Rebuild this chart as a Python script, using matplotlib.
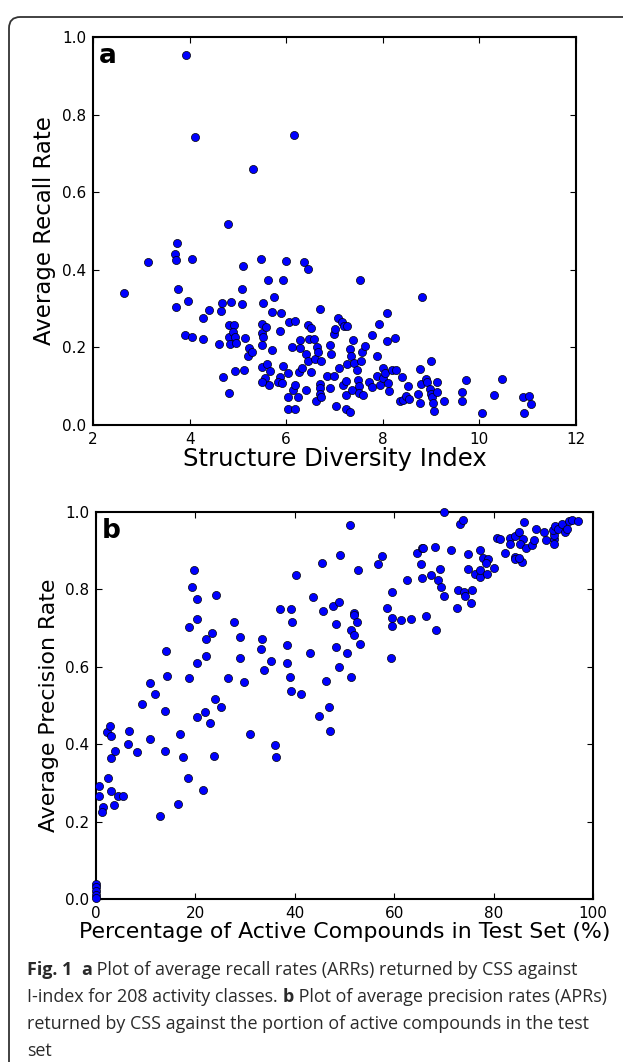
import matplotlib
matplotlib.use("Agg")
import matplotlib.pyplot as plt
from matplotlib.patches import FancyBboxPatch

# ---------------- Data ---------------- #

# panel a: structure diversity index vs average recall rate
sdi = [3.92, 4.12, 6.16, 5.31, 4.80,
       2.64, 3.14, 3.70, 3.74, 3.72, 3.76, 3.72, 4.05, 3.97, 3.91, 4.04, 4.28, 4.41, 4.28,
       4.60, 4.64, 4.68, 4.70, 4.82, 4.86, 4.82, 4.91, 4.82, 4.83, 4.89, 4.93, 4.97, 4.94,
       5.09, 5.09, 5.10, 5.14, 5.13, 5.22, 5.20, 5.30, 5.47, 5.49, 5.50, 5.53, 5.49, 5.59,
       5.52, 5.63, 5.74, 5.71, 5.71, 5.50, 5.60, 5.67, 5.57, 5.64, 5.49, 5.93, 5.99, 5.90,
       5.88, 5.93, 5.88, 5.82, 5.92, 6.04, 6.03, 6.03, 6.06, 6.11, 6.19, 6.15, 6.19, 6.24,
       6.19, 6.29, 6.28, 6.27, 6.33, 6.36, 6.45, 6.40, 6.41, 6.47, 6.45, 6.51, 6.45, 6.57,
       6.52, 6.60, 6.64, 6.69, 6.66, 6.73, 6.69, 6.71, 6.71, 6.61, 6.72, 6.84, 6.91, 6.92,
       6.91, 6.99, 6.99, 7.00, 7.07, 7.03, 7.09, 7.16, 7.19, 7.25, 7.17, 7.23, 7.23, 7.23,
       7.26, 7.32, 7.33, 7.34, 7.38, 7.40, 7.36, 7.47, 7.48, 7.51, 7.51, 7.58, 7.52, 7.54,
       7.56, 7.63, 7.72, 7.77, 7.77, 7.87, 7.88, 7.92, 7.95, 8.01, 8.01, 8.04, 8.08, 8.09,
       8.11, 8.12, 8.19, 8.28, 8.26, 8.40, 8.35, 8.41, 8.47, 8.52, 8.54, 8.73, 8.78, 8.77,
       8.82, 8.80, 8.89, 8.92, 8.99, 8.97, 9.00, 9.02, 9.04, 9.06, 9.12, 9.13, 9.27, 9.65,
       9.65, 9.72, 10.05, 10.31, 10.46, 10.91, 11.02, 11.07, 10.93]
arr = [0.954, 0.742, 0.747, 0.659, 0.518,
       0.340, 0.419, 0.440, 0.470, 0.425, 0.350, 0.305, 0.427, 0.320, 0.233, 0.226, 0.277,
       0.296, 0.222, 0.209, 0.293, 0.315, 0.125, 0.082, 0.318, 0.259, 0.259, 0.227, 0.208,
       0.240, 0.228, 0.211, 0.140, 0.313, 0.350, 0.410, 0.225, 0.142, 0.199, 0.178, 0.187,
       0.427, 0.260, 0.237, 0.226, 0.207, 0.253, 0.314, 0.373, 0.331, 0.291, 0.194, 0.150,
       0.158, 0.140, 0.122, 0.103, 0.110, 0.375, 0.423, 0.289, 0.242, 0.153, 0.123, 0.112,
       0.109, 0.134, 0.072, 0.041, 0.265, 0.201, 0.267, 0.089, 0.103, 0.072, 0.040, 0.220,
       0.199, 0.137, 0.147, 0.421, 0.403, 0.182, 0.089, 0.221, 0.257, 0.251, 0.165, 0.222,
       0.136, 0.171, 0.201, 0.299, 0.188, 0.164, 0.106, 0.096, 0.080, 0.061, 0.072, 0.126,
       0.205, 0.182, 0.095, 0.126, 0.234, 0.247, 0.276, 0.048, 0.146, 0.265, 0.255, 0.255,
       0.103, 0.114, 0.040, 0.077, 0.158, 0.033, 0.195, 0.177, 0.220, 0.160, 0.089, 0.143,
       0.116, 0.101, 0.082, 0.078, 0.375, 0.166, 0.189, 0.203, 0.112, 0.099, 0.232, 0.178,
       0.126, 0.261, 0.104, 0.147, 0.121, 0.134, 0.216, 0.289, 0.109, 0.087, 0.142, 0.141,
       0.223, 0.125, 0.062, 0.065, 0.076, 0.100, 0.068, 0.081, 0.057, 0.145, 0.329, 0.106,
       0.118, 0.110, 0.166, 0.093, 0.080, 0.072, 0.057, 0.035, 0.086, 0.112, 0.063, 0.084,
       0.063, 0.117, 0.031, 0.077, 0.119, 0.073, 0.076, 0.054, 0.031]

# panel b: percentage of active compounds in test set vs average precision rate
pct_active = [0.0, 0.0, 0.0, 0.0, 0.0,
              0.67, 0.67, 1.48, 1.28, 2.42, 2.95, 3.56, 4.50, 5.50, 2.21, 2.82, 2.95, 2.95,
              3.76, 6.58, 6.51, 8.19, 9.26, 10.8, 11.9, 10.8, 12.95, 13.8, 14.0, 14.2, 13.8,
              16.4, 17.0, 17.5, 18.5, 18.7, 18.7, 19.3, 19.7, 20.3, 20.3, 20.3, 20.4, 21.5,
              21.9, 22.2, 22.1, 23.4, 24.0, 23.0, 23.8, 24.2, 25.2, 26.5, 27.8, 28.9, 28.9,
              29.7, 31.0,
              33.4, 33.2, 35.3, 33.8, 36.1, 36.2, 38.4, 38.5, 39.1, 39.2, 41.3, 37.1, 39.2,
              39.4, 40.3, 43.0, 43.6, 45.6, 45.5, 46.3, 44.9, 46.8, 47.1, 47.6, 48.8, 48.3,
              48.3, 48.9, 49.1, 50.5, 51.1, 51.4, 51.9, 52.0, 52.6, 51.4, 52.0, 53.1, 52.8,
              56.7, 57.5, 58.5, 59.5, 59.5, 59.5, 59.4, 61.4, 63.4, 62.6, 64.6, 65.6, 65.4,
              65.5, 66.3,
              70.0, 73.3, 73.8, 65.7, 68.3, 67.4, 69.2, 68.9, 69.4, 70.0, 68.4, 71.4, 74.8,
              74.9, 77.2, 77.9, 78.8, 78.4, 76.3, 77.3, 77.3, 78.7, 80.1, 72.8, 74.1, 74.3,
              75.5, 75.7, 72.7, 80.7, 81.2, 83.2, 84.4, 85.1, 85.9, 83.4, 85.3, 86.5, 87.7,
              88.1, 88.6, 86.2, 82.3, 84.3, 84.4, 85.7, 85.2, 90.2, 90.6, 92.1, 92.2, 92.1,
              91.9, 92.4, 92.9, 93.8, 94.3, 94.8, 95.2, 95.8, 96.9]
apr = [0.040, 0.030, 0.020, 0.010, 0.002,
       0.293, 0.267, 0.238, 0.225, 0.312, 0.280, 0.243, 0.267, 0.267, 0.432, 0.446, 0.421,
       0.364, 0.383, 0.435, 0.400, 0.381, 0.503, 0.557, 0.531, 0.413, 0.215, 0.487, 0.641,
       0.576, 0.383, 0.245, 0.426, 0.366, 0.312, 0.572, 0.703, 0.805, 0.850, 0.776, 0.723,
       0.610, 0.469, 0.282, 0.482, 0.629, 0.671, 0.688, 0.518, 0.456, 0.370, 0.785, 0.496,
       0.572, 0.715, 0.677, 0.623, 0.561, 0.427,
       0.671, 0.646, 0.615, 0.591, 0.398, 0.367, 0.656, 0.611, 0.574, 0.538, 0.531, 0.750,
       0.750, 0.717, 0.838, 0.635, 0.780, 0.744, 0.868, 0.563, 0.472, 0.495, 0.435, 0.757,
       0.767, 0.711, 0.650, 0.599, 0.890, 0.636, 0.966, 0.574, 0.740, 0.733, 0.715, 0.696,
       0.682, 0.660, 0.850, 0.866, 0.886, 0.751, 0.725, 0.706, 0.794, 0.622, 0.721, 0.724,
       0.823, 0.893, 0.908, 0.865, 0.830, 0.731,
       0.999, 0.970, 0.979, 0.907, 0.910, 0.837, 0.854, 0.824, 0.807, 0.783, 0.696, 0.901,
       0.892, 0.854, 0.902, 0.880, 0.878, 0.867, 0.840, 0.832, 0.850, 0.840, 0.856, 0.798,
       0.792, 0.783, 0.766, 0.799, 0.751, 0.934, 0.931, 0.934, 0.938, 0.948, 0.931, 0.918,
       0.918, 0.907, 0.916, 0.928, 0.957, 0.974, 0.895, 0.884, 0.878, 0.871, 0.880, 0.948,
       0.928, 0.929, 0.918, 0.940, 0.953, 0.964, 0.957, 0.968, 0.948, 0.957, 0.976, 0.979,
       0.976]

xticks_a = [2, 4, 6, 8, 10, 12]
xticks_b = [0, 20, 40, 60, 80, 100]
yticks = [0.0, 0.2, 0.4, 0.6, 0.8, 1.0]

caption_lines = [
    [("Fig. 1", "bold"), ("  ", "normal"), ("a", "bold"),
     (" Plot of average recall rates (ARRs) returned by CSS against", "normal")],
    [("I-index for 208 activity classes. ", "normal"), ("b", "bold"),
     (" Plot of average precision rates (APRs)", "normal")],
    [("returned by CSS against the portion of active compounds in the test", "normal")],
    [("set", "normal")],
]

# ---------------- Figure ---------------- #

W, H = 623, 1062
fig = plt.figure(figsize=(W / 100, H / 100), dpi=100)

# rounded frame, open to the right and bottom
frame = FancyBboxPatch((9 / W, -0.1), 1.2, 1.1 - 17 / H,
                       boxstyle="round,pad=0,rounding_size=0.018",
                       transform=fig.transFigure, fill=False,
                       edgecolor="#333333", linewidth=1.3, mutation_aspect=W / H)
fig.patches.append(frame)


def style_axes(ax):
    for s in ax.spines.values():
        s.set_linewidth(1.5)
    ax.tick_params(direction="in", length=4, width=0.8, top=True, right=True,
                   labelsize=11, pad=5)


ax_a = fig.add_axes([93 / W, 1 - 425 / H, (576 - 93) / W, (425 - 37) / H])
ax_a.scatter(sdi, arr, s=34, c="#0000ff", edgecolors="black", linewidths=0.5, zorder=3)
ax_a.set_xlim(2, 12)
ax_a.set_ylim(0, 1)
ax_a.set_xticks(xticks_a)
ax_a.set_yticks(yticks)
ax_a.set_yticklabels([f"{v:.1f}" for v in yticks])
ax_a.set_xlabel("Structure Diversity Index", fontsize=17.5, labelpad=0)
ax_a.set_ylabel("Average Recall Rate", fontsize=16.5, labelpad=4)
ax_a.text(0.012, 0.985, "a", transform=ax_a.transAxes, fontsize=19,
          fontweight="bold", va="top", ha="left")
style_axes(ax_a)

ax_b = fig.add_axes([96 / W, 1 - 899 / H, (593 - 96) / W, (899 - 512) / H])
ax_b.scatter(pct_active, apr, s=34, c="#0000ff", edgecolors="black", linewidths=0.5,
             zorder=3, clip_on=False)
ax_b.set_xlim(0, 100)
ax_b.set_ylim(0, 1)
ax_b.set_xticks(xticks_b)
ax_b.set_yticks(yticks)
ax_b.set_yticklabels([f"{v:.1f}" for v in yticks])
ax_b.set_xlabel("Percentage of Active Compounds in Test Set (%)", fontsize=15.8,
                labelpad=1)
ax_b.set_ylabel("Average Precision Rate", fontsize=15.8, labelpad=4)
ax_b.text(0.012, 0.985, "b", transform=ax_b.transAxes, fontsize=19,
          fontweight="bold", va="top", ha="left")
style_axes(ax_b)

# caption, built piece by piece so bold and normal runs sit on one line
fig.canvas.draw()
renderer = fig.canvas.get_renderer()
y0 = 1 - 975 / H
line_step = 27 / H
for i, parts in enumerate(caption_lines):
    x = 27 / W
    for txt, weight in parts:
        t = fig.text(x, y0 - i * line_step, txt, fontsize=12.9, fontweight=weight,
                     family="Open Sans", va="baseline", ha="left", color="#2a2a2a")
        bb = t.get_window_extent(renderer)
        x += bb.width / W

fig.savefig("out.png", dpi=100)
